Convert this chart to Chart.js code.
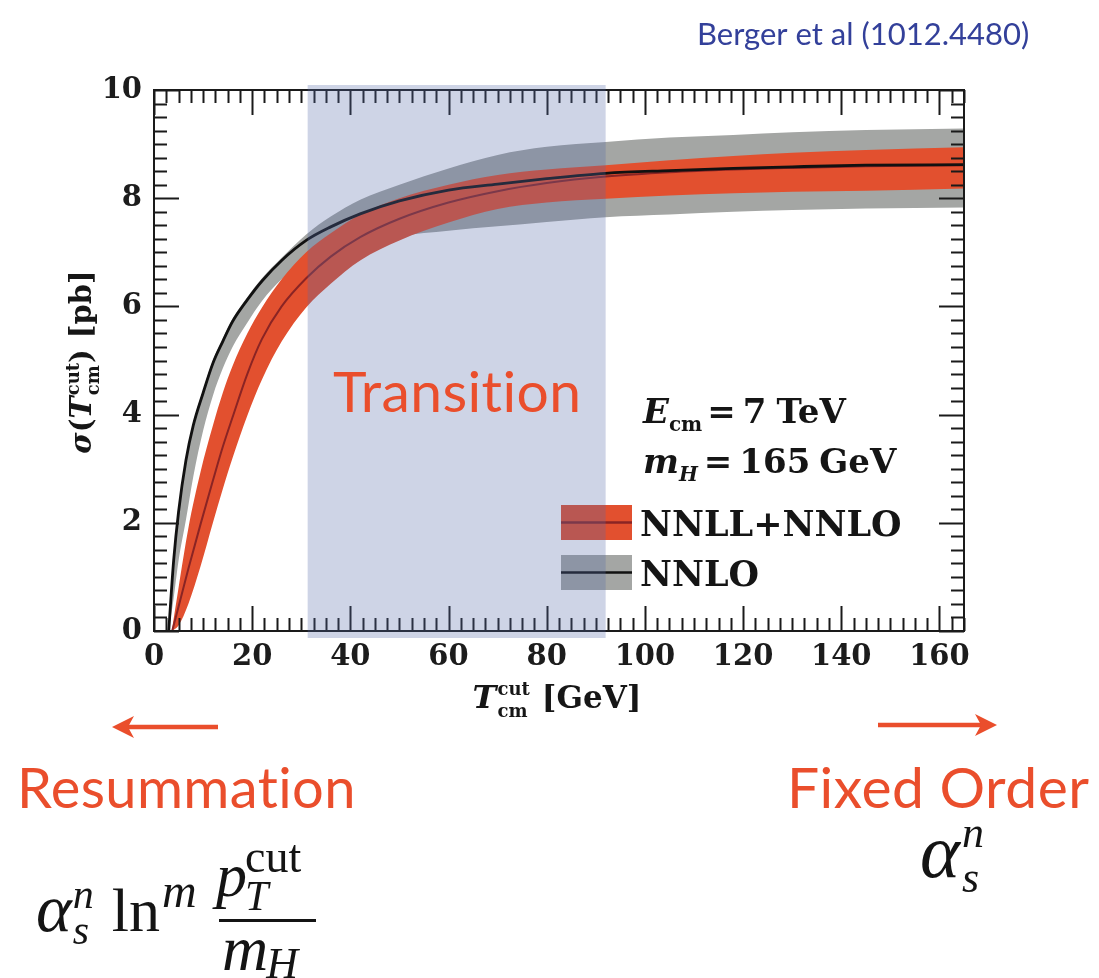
<!DOCTYPE html>
<html>
<head>
<meta charset="utf-8">
<script src="https://cdn.jsdelivr.net/npm/chart.js@4.4.1/dist/chart.umd.min.js"></script>
<style>
  html, body { margin: 0; padding: 0; background: #ffffff; }
  canvas { display: block; }
</style>
</head>
<body>
<canvas id="xsec" width="1099" height="978"></canvas>
<script>
// Jet-veto cross section vs. beam-thrust cut T_cm^cut (GeV), sigma in pb

// Fixed-order NNLO: central curve and scale-variation band
const nnloCut     = [3, 4, 5, 6.5, 8, 10, 12, 14, 16, 19, 22, 26, 31, 36, 42, 50, 60, 70, 80, 92, 105, 118, 130, 145, 165];
const nnloCentral = [0, 1.3, 2.2, 3.15, 3.8, 4.4, 4.95, 5.35, 5.72, 6.12, 6.47, 6.85, 7.22, 7.47, 7.71, 7.95, 8.15, 8.26, 8.36, 8.46, 8.51, 8.55, 8.58, 8.61, 8.62];
const nnloUpper   = [0, 1.35, 2.25, 3.2, 3.85, 4.45, 5.0, 5.4, 5.77, 6.17, 6.52, 6.9, 7.33, 7.66, 7.97, 8.25, 8.55, 8.8, 8.95, 9.04, 9.12, 9.17, 9.22, 9.26, 9.29];
const nnloLower   = [0, 0.6, 1.3, 2.05, 2.85, 3.7, 4.35, 4.85, 5.25, 5.7, 6.1, 6.5, 6.82, 7.0, 7.15, 7.3, 7.4, 7.48, 7.56, 7.65, 7.7, 7.75, 7.78, 7.81, 7.83];

// Resummed NNLL+NNLO: central curve and uncertainty band
const resumCut     = [3.7, 5, 7, 9.5, 12, 14, 16, 19, 22, 26, 31, 36, 42, 50, 60, 70, 80, 92, 105, 118, 130, 145, 165];
const resumCentral = [0, 0.45, 1.15, 1.98, 2.78, 3.4, 3.95, 4.75, 5.4, 6.0, 6.52, 6.92, 7.28, 7.62, 7.92, 8.13, 8.28, 8.4, 8.48, 8.53, 8.56, 8.59, 8.61];
const resumUpper   = [0.05, 0.8, 1.9, 2.95, 3.8, 4.4, 4.9, 5.5, 5.98, 6.5, 7.0, 7.35, 7.7, 8.0, 8.25, 8.43, 8.53, 8.61, 8.7, 8.78, 8.84, 8.89, 8.94];
const resumLower   = [0, 0.1, 0.5, 1.2, 2.0, 2.62, 3.2, 3.98, 4.65, 5.35, 5.98, 6.42, 6.85, 7.22, 7.55, 7.8, 7.92, 7.99, 8.05, 8.09, 8.12, 8.14, 8.18];

// Axis tick labels
const xTickValues = [0, 20, 40, 60, 80, 100, 120, 140, 160];
const yTickValues = [0, 2, 4, 6, 8, 10];

// Region where resummation hands over to fixed order
const transitionWindow = [31.3, 92];

// Legend entries
const legendLabels = ['NNLL+NNLO', 'NNLO'];

const C_RED_BAND = '#e2502f';
const C_RED_LINE = '#8a2424';
const C_GRAY_BAND = '#a4a6a4';
const C_BLACK = '#111111';
const C_ORANGE = '#ea4e2c';
const SERIF = "'DejaVu Serif'";
const MATH = "'Liberation Serif'";
const SANS = "Lato";

function pts(xs, ys) { return xs.map((x, i) => ({ x: x, y: ys[i] })); }

// Draw a row of text pieces (with optional stacked sub/superscripts); returns its width
function drawRuns(ctx, x, y, parts, measureOnly) {
  let cx = x;
  for (const p of parts) {
    ctx.font = p.font;
    let w = ctx.measureText(p.t).width + (p.dx || 0);
    if (!measureOnly) ctx.fillText(p.t, cx + (p.dx || 0), y + (p.dy || 0));
    if (p.under) {
      ctx.font = p.under.font;
      const w2 = ctx.measureText(p.under.t).width + (p.under.dx || 0);
      if (!measureOnly) ctx.fillText(p.under.t, cx + (p.under.dx || 0), y + p.under.dy);
      w = Math.max(w, w2);
    }
    cx += w + (p.after || 0);
  }
  return cx - x;
}

function arrow(ctx, x0, x1, y, color) {
  const dir = Math.sign(x1 - x0);
  ctx.save();
  ctx.strokeStyle = color; ctx.fillStyle = color;
  ctx.lineWidth = 4.5; ctx.lineCap = 'butt';
  ctx.beginPath(); ctx.moveTo(x0, y); ctx.lineTo(x1 - dir * 14, y); ctx.stroke();
  ctx.beginPath();
  ctx.moveTo(x1, y);
  ctx.lineTo(x1 - dir * 22, y - 11);
  ctx.lineTo(x1 - dir * 16, y);
  ctx.lineTo(x1 - dir * 22, y + 11);
  ctx.closePath(); ctx.fill();
  ctx.restore();
}

const decorations = {
  id: 'decorations',
  afterDatasetsDraw(chart) {
    const ctx = chart.ctx;
    const a = chart.chartArea;
    const xs = chart.scales.x, ys = chart.scales.y;
    ctx.save();

    // frame with inward ticks on all four sides
    ctx.strokeStyle = '#1a1a1a';
    ctx.lineWidth = 2;
    ctx.strokeRect(a.left, a.top, a.right - a.left, a.bottom - a.top);
    ctx.beginPath();
    for (let v = 0; v <= 165.001; v += 2.5) {
      const px = Math.round(xs.getPixelForValue(v)) + 0.5;
      const len = (Math.abs(v % 20) < 1e-6) ? 25 : 13;
      ctx.moveTo(px, a.bottom); ctx.lineTo(px, a.bottom - len);
      ctx.moveTo(px, a.top); ctx.lineTo(px, a.top + len);
    }
    for (let v = 0; v <= 10.001; v += 0.25) {
      const py = Math.round(ys.getPixelForValue(v)) + 0.5;
      const len = (Math.abs(v % 2) < 1e-6) ? 25 : 13;
      ctx.moveTo(a.left, py); ctx.lineTo(a.left + len, py);
      ctx.moveTo(a.right, py); ctx.lineTo(a.right - len, py);
    }
    ctx.stroke();

    // legend swatches
    const sw = [{ y: 505, fill: C_RED_BAND, line: C_RED_LINE }, { y: 555, fill: C_GRAY_BAND, line: C_BLACK }];
    sw.forEach((s, i) => {
      ctx.fillStyle = s.fill;
      ctx.fillRect(561, s.y, 71, 35);
      ctx.strokeStyle = s.line; ctx.lineWidth = 2.5;
      ctx.beginPath(); ctx.moveTo(561, s.y + 17.5); ctx.lineTo(632, s.y + 17.5); ctx.stroke();
      ctx.fillStyle = '#151515';
      ctx.font = `bold 35px ${SERIF}`;
      ctx.textBaseline = 'alphabetic';
      ctx.fillText(legendLabels[i], 640, s.y + 31);
    });

    // parameter labels
    ctx.fillStyle = '#151515';
    drawRuns(ctx, 643, 423, [
      { t: 'E', font: `italic bold 34px ${SERIF}` },
      { t: 'cm', font: `bold 20px ${SERIF}`, dy: 8, after: 5 },
      { t: '=', font: `bold 34px ${SERIF}`, after: 7 },
      { t: '7', font: `bold 34px ${SERIF}`, after: 10 },
      { t: 'TeV', font: `bold 34px ${SERIF}` }
    ]);
    drawRuns(ctx, 643, 473, [
      { t: 'm', font: `italic bold 34px ${SERIF}` },
      { t: 'H', font: `italic bold 20px ${SERIF}`, dy: 8, after: 6 },
      { t: '=', font: `bold 34px ${SERIF}`, after: 7 },
      { t: '165', font: `bold 34px ${SERIF}`, after: 9 },
      { t: 'GeV', font: `bold 34px ${SERIF}` }
    ]);

    // transition window shading
    const x0 = xs.getPixelForValue(transitionWindow[0]);
    const x1 = xs.getPixelForValue(transitionWindow[1]);
    ctx.fillStyle = 'rgba(85, 106, 170, 0.29)';
    ctx.fillRect(x0, a.top - 5, x1 - x0, a.bottom - a.top + 12);

    ctx.fillStyle = C_ORANGE;
    ctx.letterSpacing = '0.4px';
    ctx.font = `57px ${SANS}`;
    ctx.fillText('Transition', 333, 412);
    ctx.restore();
  },
  afterDraw(chart) {
    const ctx = chart.ctx;
    ctx.save();
    ctx.textBaseline = 'alphabetic';
    ctx.fillStyle = '#161616';

    // x-axis title
    const xt = [
      { t: 'T', font: `italic bold 32px ${SERIF}`, after: 1 },
      { t: 'cut', font: `bold 18px ${SERIF}`, dy: -13, under: { t: 'cm', font: `bold 18px ${SERIF}`, dy: 9 }, after: 12 },
      { t: '[GeV]', font: `bold 31px ${SERIF}` }
    ];
    const xw = drawRuns(ctx, 0, 0, xt, true);
    drawRuns(ctx, 557 - xw / 2, 708, xt);

    // y-axis title (rotated)
    const yt = [
      { t: 'σ', font: `italic bold 29px ${SERIF}` },
      { t: '(', font: `bold 29px ${SERIF}` },
      { t: 'T', font: `italic bold 30px ${SERIF}`, after: 1 },
      { t: 'cut', font: `bold 18px ${SERIF}`, dy: -12, under: { t: 'cm', font: `bold 18px ${SERIF}`, dy: 8 } },
      { t: ')', font: `bold 29px ${SERIF}`, after: 11 },
      { t: '[pb]', font: `bold 29px ${SERIF}` }
    ];
    const yw = drawRuns(ctx, 0, 0, yt, true);
    ctx.save();
    ctx.translate(91, 362);
    ctx.rotate(-Math.PI / 2);
    drawRuns(ctx, -yw / 2, 0, yt);
    ctx.restore();

    // reference
    ctx.fillStyle = '#33409a';
    ctx.font = `31px ${SANS}`;
    ctx.fillText('Berger et al (1012.4480)', 697, 45);

    // regime labels and arrows
    arrow(ctx, 218, 112, 727, C_ORANGE);
    arrow(ctx, 878, 997, 725, C_ORANGE);
    ctx.fillStyle = C_ORANGE;
    ctx.letterSpacing = '0.4px';
    ctx.font = `56px ${SANS}`;
    ctx.fillText('Resummation', 17, 808);
    ctx.letterSpacing = '0.5px';
    ctx.font = `57px ${SANS}`;
    ctx.fillText('Fixed Order', 787, 808);
    ctx.letterSpacing = '0px';

    // power-counting formulas
    ctx.fillStyle = '#141414';
    drawRuns(ctx, 36, 931, [
      { t: 'α', font: `italic 68px ${MATH}`, after: 1 },
      { t: 'n', font: `italic 42px ${MATH}`, dy: -23, under: { t: 's', font: `italic 42px ${MATH}`, dy: 13 }, after: 18 },
      { t: 'ln', font: `62px ${MATH}`, after: 2 },
      { t: 'm', font: `italic 48px ${MATH}`, dy: -24 }
    ]);
    // fraction p_T^cut / m_H
    drawRuns(ctx, 216, 896, [
      { t: 'p', font: `italic 62px ${MATH}`, after: -2 },
      { t: 'cut', font: `46px ${MATH}`, dy: -24, under: { t: 'T', font: `italic 42px ${MATH}`, dy: 14 } }
    ]);
    ctx.fillRect(219, 919, 97, 3);
    drawRuns(ctx, 222, 970, [
      { t: 'm', font: `italic 64px ${MATH}`, after: -2 },
      { t: 'H', font: `italic 44px ${MATH}`, dy: 8 }
    ]);
    drawRuns(ctx, 920, 877, [
      { t: 'α', font: `italic 76px ${MATH}`, after: 2 },
      { t: 'n', font: `italic 44px ${MATH}`, dy: -30, under: { t: 's', font: `italic 44px ${MATH}`, dy: 15 } }
    ]);
    ctx.restore();
  }
};

const tickFont = { family: 'DejaVu Serif', weight: 'bold', size: 29 };

new Chart(document.getElementById('xsec'), {
  type: 'line',
  data: {
    datasets: [
      { label: 'NNLO low', data: pts(nnloCut, nnloLower), borderWidth: 0, fill: false, order: 6 },
      { label: 'NNLO band', data: pts(nnloCut, nnloUpper), borderWidth: 0, fill: 0, backgroundColor: C_GRAY_BAND, order: 5 },
      { label: 'NNLL+NNLO low', data: pts(resumCut, resumLower), borderWidth: 0, fill: false, order: 4 },
      { label: 'NNLL+NNLO band', data: pts(resumCut, resumUpper), borderWidth: 0, fill: 2, backgroundColor: C_RED_BAND, order: 3 },
      { label: 'NNLL+NNLO', data: pts(resumCut, resumCentral), borderColor: C_RED_LINE, borderWidth: 2, fill: false, order: 2 },
      { label: 'NNLO', data: pts(nnloCut, nnloCentral), borderColor: C_BLACK, borderWidth: 2.8, fill: false, order: 1 }
    ]
  },
  options: {
    responsive: false,
    animation: false,
    events: [],
    layout: { padding: { left: 0, top: 90, right: 135, bottom: 0 } },
    elements: {
      point: { radius: 0 },
      line: { cubicInterpolationMode: 'monotone', borderColor: 'rgba(0,0,0,0)' }
    },
    plugins: { legend: { display: false }, tooltip: { enabled: false } },
    scales: {
      x: {
        type: 'linear', min: 0, max: 165,
        grid: { display: false, drawTicks: false },
        border: { display: false },
        ticks: { font: tickFont, color: '#1c1c1c', padding: 9, maxRotation: 0, autoSkip: false, includeBounds: false },
        afterBuildTicks: s => { s.ticks = xTickValues.map(v => ({ value: v })); },
        afterFit: s => { s.height = 347; }
      },
      y: {
        type: 'linear', min: 0, max: 10,
        grid: { display: false, drawTicks: false },
        border: { display: false },
        ticks: { font: tickFont, color: '#1c1c1c', padding: 12, autoSkip: false, includeBounds: false },
        afterBuildTicks: s => { s.ticks = yTickValues.map(v => ({ value: v })); },
        afterFit: s => { s.width = 154; }
      }
    }
  },
  plugins: [decorations]
});
</script>
</body>
</html>
